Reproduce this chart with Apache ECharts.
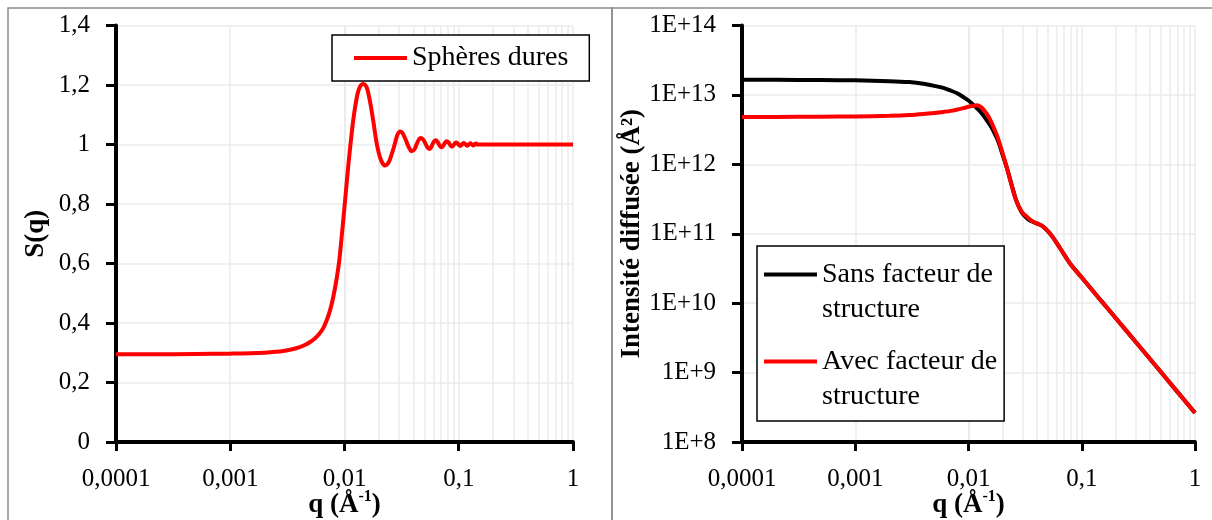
<!DOCTYPE html>
<html>
<head>
<meta charset="utf-8">
<script src="https://cdn.jsdelivr.net/npm/echarts@6/dist/echarts.min.js"></script>
<style>
html,body{margin:0;padding:0;background:#fff;}
#chart{width:1212px;height:520px;}
</style>
</head>
<body>
<div id="chart"></div>
<script>
// ---- Data ----
const qS = [0.0001, 0.0002, 0.0005, 0.001, 0.0015, 0.002, 0.0025, 0.003, 0.0035, 0.004, 0.0045, 0.005, 0.0055, 0.006, 0.0065, 0.007, 0.0075, 0.008, 0.0085, 0.009, 0.0095, 0.010, 0.0105, 0.011, 0.0115, 0.012, 0.0125, 0.013, 0.0135, 0.014, 0.0147, 0.0155, 0.016, 0.017, 0.018, 0.019, 0.020, 0.021, 0.022, 0.0226, 0.024, 0.025, 0.026, 0.027, 0.028, 0.029, 0.0306, 0.032, 0.034, 0.036, 0.038, 0.0388, 0.041, 0.043, 0.045, 0.0465, 0.049, 0.051, 0.053, 0.055, 0.057, 0.059, 0.061, 0.063, 0.065, 0.067, 0.069, 0.071, 0.073, 0.075, 0.077, 0.079, 0.081, 0.083, 0.085, 0.087, 0.089, 0.091, 0.093, 0.095, 0.097, 0.099, 0.101, 0.103, 0.105, 0.107, 0.109, 0.111, 0.113, 0.115, 0.117, 0.119, 0.121, 0.123, 0.125, 0.127, 0.129, 0.131, 0.133, 0.135, 0.137, 0.139, 0.141, 0.143, 0.145, 0.15, 0.2, 0.3, 0.5, 0.7, 1.0];
const sHardSpheres = [0.295, 0.295, 0.296, 0.297, 0.298, 0.300, 0.303, 0.307, 0.312, 0.318, 0.326, 0.336, 0.348, 0.363, 0.382, 0.41, 0.445, 0.49, 0.545, 0.61, 0.70, 0.79, 0.88, 0.96, 1.03, 1.09, 1.135, 1.17, 1.19, 1.2, 1.203, 1.195, 1.18, 1.13, 1.07, 1.01, 0.97, 0.945, 0.932, 0.929, 0.936, 0.95, 0.97, 0.99, 1.012, 1.032, 1.044, 1.04, 1.02, 0.996, 0.979, 0.977, 0.984, 1.003, 1.018, 1.022, 1.016, 1.004, 0.991, 0.985, 0.989, 1.001, 1.011, 1.014, 1.01, 1.001, 0.993, 0.991, 0.996, 1.003, 1.009, 1.011, 1.008, 1.002, 0.996, 0.993, 0.995, 1.0, 1.005, 1.007, 1.005, 1.001, 0.997, 0.995, 0.997, 1.001, 1.004, 1.005, 1.003, 1.0, 0.997, 0.996, 0.998, 1.001, 1.003, 1.004, 1.002, 0.999, 0.997, 0.997, 0.999, 1.002, 1.003, 1.002, 1.0, 1.0, 1.0, 1.0, 1.0, 1.0, 1.0];

const qI = [0.0001, 0.0002, 0.0005, 0.001, 0.002, 0.003, 0.004, 0.005, 0.006, 0.007, 0.008, 0.009, 0.010, 0.011, 0.012, 0.013, 0.014, 0.015, 0.016, 0.018, 0.020, 0.022, 0.024, 0.026, 0.028, 0.030, 0.033, 0.036, 0.040, 0.045, 0.050, 0.055, 0.060, 0.070, 0.080, 0.10, 0.15, 0.20, 0.30, 0.50, 0.70, 1.0];
const iSans = [1.65e13, 1.65e13, 1.64e13, 1.62e13, 1.58e13, 1.53e13, 1.45e13, 1.35e13, 1.26e13, 1.15e13, 1.05e13, 9.33e12, 8.32e12, 7.24e12, 6.31e12, 5.50e12, 4.68e12, 3.98e12, 3.39e12, 2.29e12, 1.38e12, 8.5e11, 5.13e11, 3.24e11, 2.40e11, 1.95e11, 1.66e11, 1.51e11, 1.41e11, 1.29e11, 1.10e11, 9.1e10, 7.4e10, 5.0e10, 3.6e10, 2.34e10, 1.06e10, 6.07e9, 2.75e9, 1.02e9, 5.27e8, 2.63e8];
const iAvec = [4.82e12, 4.82e12, 4.85e12, 4.90e12, 5.01e12, 5.13e12, 5.31e12, 5.50e12, 5.69e12, 5.89e12, 6.17e12, 6.46e12, 6.76e12, 7.0e12, 7.08e12, 6.61e12, 5.75e12, 4.90e12, 3.98e12, 2.51e12, 1.45e12, 8.5e11, 5.0e11, 3.24e11, 2.40e11, 2.0e11, 1.74e11, 1.55e11, 1.41e11, 1.29e11, 1.10e11, 9.1e10, 7.4e10, 5.0e10, 3.6e10, 2.34e10, 1.06e10, 6.07e9, 2.75e9, 1.02e9, 5.27e8, 2.63e8];

const xTickLabels = ['0,0001', '0,001', '0,01', '0,1', '1'];
const yTickLabelsLeft = ['0', '0,2', '0,4', '0,6', '0,8', '1', '1,2', '1,4'];
const yTickLabelsRight = ['1E+8', '1E+9', '1E+10', '1E+11', '1E+12', '1E+13', '1E+14'];
const minorGridQ = [0.0002, 0.0003, 0.0004, 0.0005, 0.0006, 0.0007, 0.0008, 0.0009,
  0.002, 0.003, 0.004, 0.005, 0.006, 0.007, 0.008, 0.009,
  0.02, 0.03, 0.04, 0.05, 0.06, 0.07, 0.08, 0.09,
  0.2, 0.3, 0.4, 0.5, 0.6, 0.7, 0.8, 0.9];

const seriesNames = ['Sphères dures', 'Sans facteur de structure', 'Avec facteur de structure'];
const seriesColors = ['#ff0000', '#000000', '#ff0000'];

// ---- Chart ----
const FONT = 'Liberation Serif';
const GRID_COLOR = '#ebebeb';
const chart = echarts.init(document.getElementById('chart'), null, {renderer: 'canvas'});

function xAxisDef(gridIndex) {
  return {
    type: 'log', logBase: 10, gridIndex, min: 0.0001, max: 1, splitNumber: 4, z: 2,
    name: '{b|q (Å}{s|-1}{b|)}',
    nameLocation: 'middle', nameGap: 47, nameMoveOverlap: false,
    nameTextStyle: {
      rich: {
        b: {fontFamily: FONT, fontWeight: 'bold', fontSize: 27, color: '#000', lineHeight: 30, verticalAlign: 'bottom'},
        s: {fontFamily: FONT, fontWeight: 'bold', fontSize: 16, color: '#000', lineHeight: 18, verticalAlign: 'top'}
      }
    },
    axisLine: {show: true, onZero: false, lineStyle: {color: '#000', width: 4}},
    axisTick: {show: true, length: 9, lineStyle: {color: '#000', width: 3}},
    axisLabel: {
      fontFamily: FONT, fontSize: 25, color: '#000', margin: 25,
      formatter: v => xTickLabels[Math.round(Math.log10(v)) + 4]
    },
    splitLine: {show: true, lineStyle: {color: GRID_COLOR, width: 1.5}},
    minorTick: {show: false},
    minorSplitLine: {show: false}
  };
}

function minorGridSeries(xi, yi) {
  return {
    type: 'line', xAxisIndex: xi, yAxisIndex: yi, data: [], z: 1, silent: true,
    markLine: {
      z: 1, silent: true, symbol: ['none', 'none'], label: {show: false},
      lineStyle: {color: GRID_COLOR, width: 1.5, type: 'solid'},
      emphasis: {disabled: true},
      data: minorGridQ.map(q => ({xAxis: q}))
    }
  };
}

const legendRich = {
  t: {fontFamily: FONT, fontSize: 28, lineHeight: 35, color: '#000'},
  g: {width: 5, lineHeight: 4},
  sp: {width: 58, lineHeight: 4}
};
seriesNames.forEach((n, k) => {
  legendRich['ln' + k] = {width: 53, height: 4, lineHeight: 4, backgroundColor: seriesColors[k]};
});

const option = {
  animation: false,
  backgroundColor: '#fff',
  graphic: [
    {type: 'rect', silent: true, z: 0, shape: {x: 8, y: 8, width: 604, height: 600}, style: {fill: 'none', stroke: '#8c8c8c', lineWidth: 1.5}},
    {type: 'rect', silent: true, z: 0, shape: {x: 612, y: 8, width: 700, height: 600}, style: {fill: 'none', stroke: '#8c8c8c', lineWidth: 1.5}}
  ],
  grid: [
    {left: 116, top: 25.5, width: 457, height: 416.5, containLabel: false, outerBoundsMode: 'none'},
    {left: 742, top: 25.5, width: 453, height: 416.5, containLabel: false, outerBoundsMode: 'none'}
  ],
  legend: [
    {
      data: [seriesNames[0]], left: 332, top: 35, orient: 'vertical',
      padding: [8, 21, 8, 22], itemWidth: 53, itemHeight: 4, icon: 'rect',
      selectedMode: false, borderColor: '#000', borderWidth: 1.5, backgroundColor: '#fff',
      textStyle: {fontFamily: FONT, fontSize: 28, lineHeight: 30, color: '#000'}
    },
    {
      data: [seriesNames[1], seriesNames[2]], left: 757, top: 246, orient: 'vertical',
      padding: [11, 7, 7, 2], itemGap: 17, itemWidth: 0, itemHeight: 4, icon: 'none',
      selectedMode: false, borderColor: '#000', borderWidth: 1.5, backgroundColor: '#fff',
      formatter: n => {
        const k = seriesNames.indexOf(n);
        const first = n.replace(' structure', '');
        return '{ln' + k + '|}{g|}{t|' + first + '}\n{sp|}{t|structure}';
      },
      textStyle: {fontFamily: FONT, fontSize: 28, lineHeight: 35, color: '#000', rich: legendRich}
    }
  ],
  xAxis: [xAxisDef(0), xAxisDef(1)],
  yAxis: [
    {
      type: 'value', gridIndex: 0, min: 0, max: 1.4, interval: 0.2, z: 2,
      name: 'S(q)', nameLocation: 'middle', nameGap: 66, nameRotate: 90, nameMoveOverlap: false,
      nameTextStyle: {fontFamily: FONT, fontWeight: 'bold', fontSize: 27, color: '#000'},
      axisLine: {show: true, onZero: false, lineStyle: {color: '#000', width: 4}},
      axisTick: {show: true, length: 10, lineStyle: {color: '#000', width: 3}},
      axisLabel: {fontFamily: FONT, fontSize: 25, color: '#000', margin: 26,
        formatter: v => yTickLabelsLeft[Math.round(v / 0.2)]},
      splitLine: {show: true, lineStyle: {color: GRID_COLOR, width: 1.5}}
    },
    {
      type: 'log', logBase: 10, gridIndex: 1, min: 1e8, max: 1e14, splitNumber: 6, z: 2,
      name: 'Intensité diffusée (Å²)', nameLocation: 'middle', nameGap: 96, nameRotate: 90, nameMoveOverlap: false,
      nameTextStyle: {fontFamily: FONT, fontWeight: 'bold', fontSize: 27, color: '#000'},
      axisLine: {show: true, onZero: false, lineStyle: {color: '#000', width: 4}},
      axisTick: {show: true, length: 10, lineStyle: {color: '#000', width: 3}},
      axisLabel: {fontFamily: FONT, fontSize: 25, color: '#000', margin: 26,
        formatter: v => yTickLabelsRight[Math.round(Math.log10(v)) - 8]},
      splitLine: {show: true, lineStyle: {color: GRID_COLOR, width: 1.5}}
    }
  ],
  series: [
    minorGridSeries(0, 0),
    minorGridSeries(1, 1),
    {
      name: seriesNames[0], type: 'line', xAxisIndex: 0, yAxisIndex: 0,
      data: qS.map((q, i) => [q, sHardSpheres[i]]),
      showSymbol: false, symbol: 'none', smooth: 0.3, color: seriesColors[0],
      lineStyle: {color: seriesColors[0], width: 4}, z: 3
    },
    {
      name: seriesNames[1], type: 'line', xAxisIndex: 1, yAxisIndex: 1,
      data: qI.map((q, i) => [q, iSans[i]]),
      showSymbol: false, symbol: 'none', smooth: 0.3, color: seriesColors[1],
      lineStyle: {color: seriesColors[1], width: 4}, z: 3
    },
    {
      name: seriesNames[2], type: 'line', xAxisIndex: 1, yAxisIndex: 1,
      data: qI.map((q, i) => [q, iAvec[i]]),
      showSymbol: false, symbol: 'none', smooth: 0.3, color: seriesColors[2],
      lineStyle: {color: seriesColors[2], width: 4}, z: 4
    }
  ]
};
chart.setOption(option);
</script>
</body>
</html>
